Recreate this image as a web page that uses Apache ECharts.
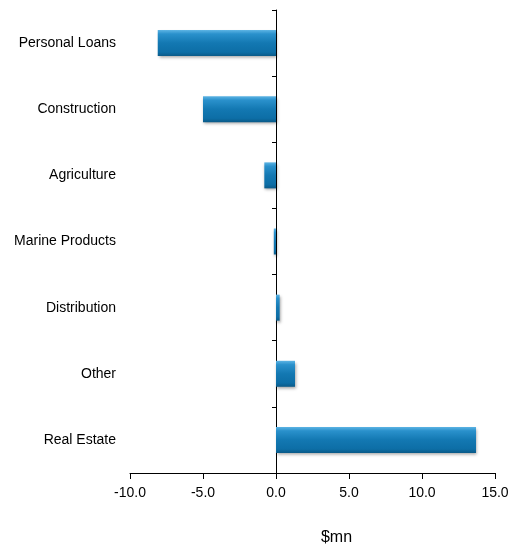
<!DOCTYPE html>
<html>
<head>
<meta charset="utf-8">
<script src="https://cdn.jsdelivr.net/npm/echarts@6/dist/echarts.min.js"></script>
<style>html,body{margin:0;padding:0;background:#fff;}#c{width:522px;height:552px;}</style>
</head>
<body>
<div id="c"></div>
<script>
const categories = ['Real Estate', 'Other', 'Distribution', 'Marine Products', 'Agriculture', 'Construction', 'Personal Loans'];
const values = [13.7, 1.3, 0.25, -0.15, -0.8, -5.0, -8.1];
const xTicks = [-10, -5, 0, 5, 10, 15];
const axisName = '$mn';

const font = '"Liberation Sans Narrow", "Arial Narrow", "Liberation Sans", sans-serif';
const chart = echarts.init(document.getElementById('c'));
chart.setOption({
  animation: false,
  backgroundColor: '#fff',
  grid: { left: 130, right: 27, top: 10, bottom: 79, containLabel: false, outerBoundsMode: 'none' },
  xAxis: {
    type: 'value',
    min: xTicks[0], max: xTicks[xTicks.length - 1], interval: 5,
    splitLine: { show: false },
    axisLine: { show: true, lineStyle: { color: '#000', width: 1 } },
    axisTick: { show: true, length: 6, lineStyle: { color: '#000' } },
    axisLabel: { color: '#000', fontFamily: font, fontSize: 14, margin: 13, formatter: v => v.toFixed(1) },
    name: axisName, nameLocation: 'middle', nameGap: 57,
    nameTextStyle: { color: '#000', fontFamily: font, fontSize: 16, padding: [0, 0, 0, 48] }
  },
  yAxis: [{
    type: 'category',
    data: categories,
    position: 'left',
    axisLine: { show: true, onZero: true, lineStyle: { color: '#000', width: 1 } },
    axisTick: { show: true, length: 4, lineStyle: { color: '#000' } },
    axisLabel: { show: false }
  }, {
    type: 'category',
    data: categories,
    position: 'left',
    axisLine: { show: false, onZero: false },
    axisTick: { show: false },
    splitLine: { show: false },
    axisLabel: { color: '#000', fontFamily: font, fontSize: 14, margin: 14 }
  }],
  series: [{
    type: 'bar',
    data: values,
    yAxisIndex: 0,
    barWidth: 26,
    itemStyle: {
      color: new echarts.graphic.LinearGradient(0, 0, 0, 1, [
        { offset: 0, color: '#5db4e4' },
        { offset: 0.15, color: '#2a91cc' },
        { offset: 0.5, color: '#1378b2' },
        { offset: 0.85, color: '#0d6ea6' },
        { offset: 1, color: '#0a5a88' }
      ]),
      shadowBlur: 3, shadowOffsetY: 2, shadowOffsetX: 1, shadowColor: 'rgba(0,0,0,0.35)'
    }
  }]
});
</script>
</body>
</html>
